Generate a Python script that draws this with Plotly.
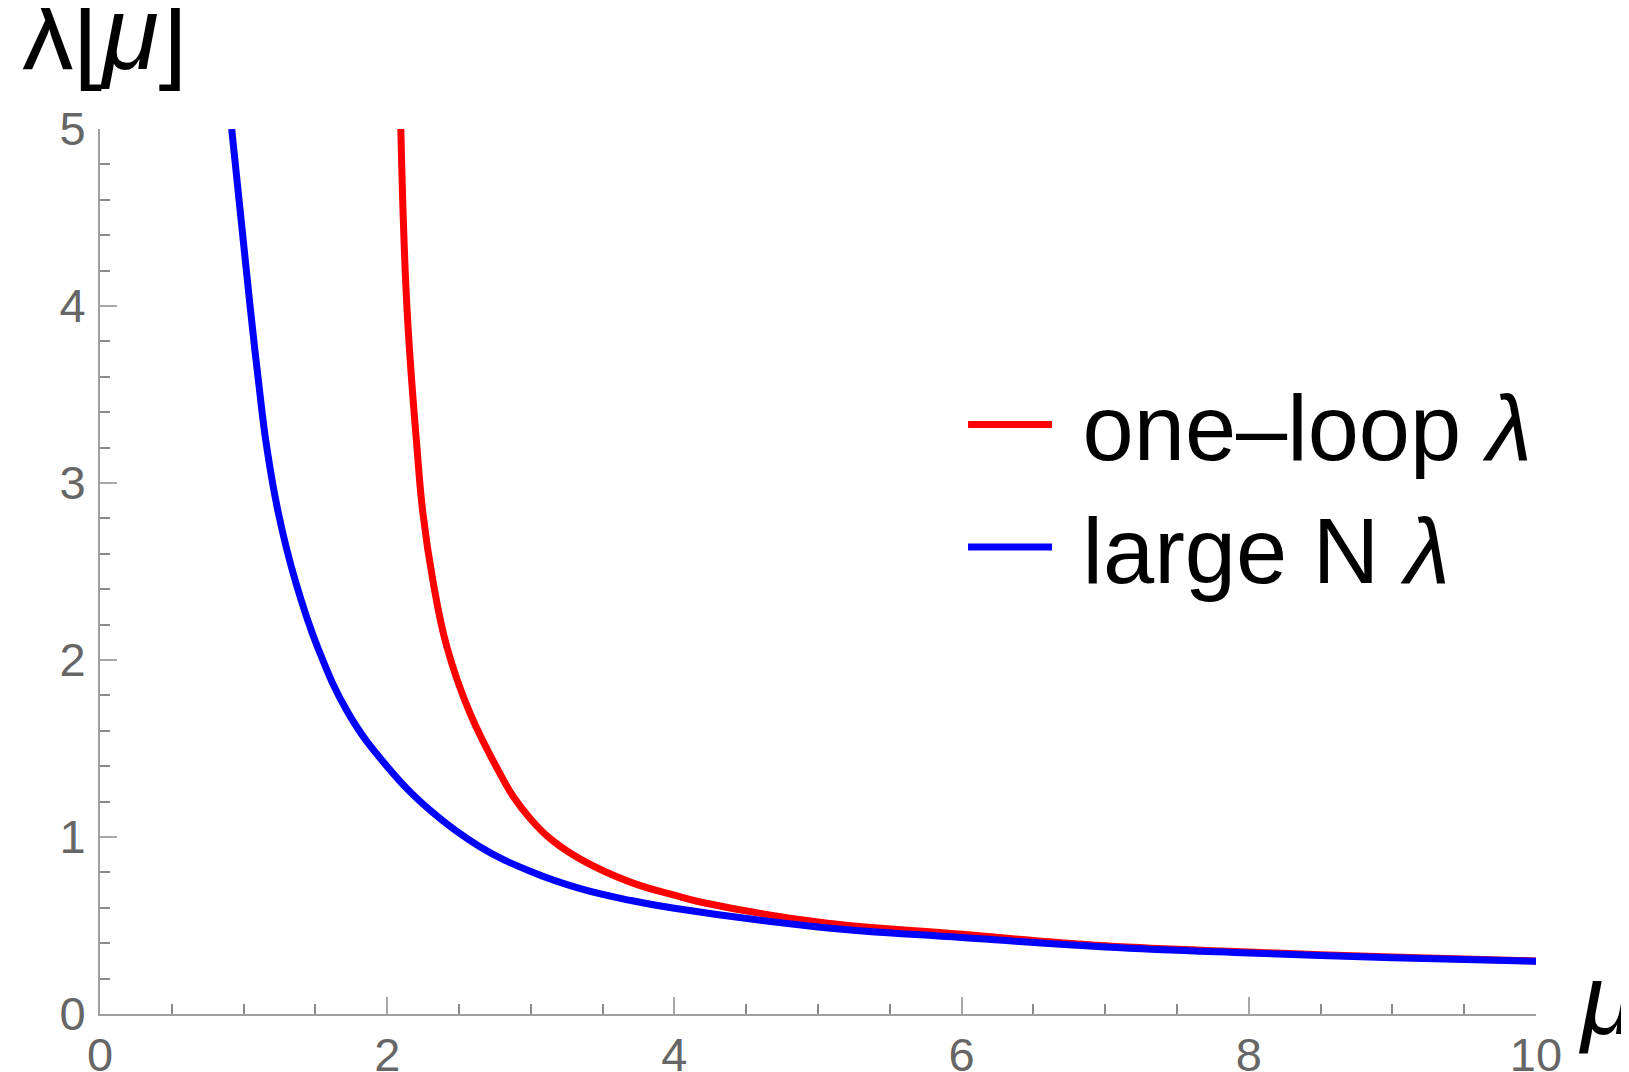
import plotly.graph_objects as go

# Values
mu_one_loop = [2.095, 2.137, 2.207, 2.249, 2.318, 2.416, 2.578, 2.811, 2.88,
               3.0, 3.136, 3.345, 3.693, 4.0, 4.18, 5.0, 6.0, 7.0, 8.0, 9.0, 10.0]
lam_one_loop = [5.0, 4.0, 3.203, 2.827, 2.45, 2.073, 1.697, 1.32, 1.226,
                1.10, 0.99, 0.875, 0.745, 0.671, 0.633, 0.52, 0.45, 0.385, 0.35, 0.322, 0.30]

mu_large_n = [0.917, 1.045, 1.103, 1.161, 1.243, 1.359, 1.515, 1.731, 1.998,
              2.30, 2.648, 3.0, 3.345, 3.693, 4.0, 5.0, 6.0, 7.0, 8.0, 9.0, 10.0]
lam_large_n = [5.0, 4.0, 3.58, 3.203, 2.827, 2.45, 2.073, 1.697, 1.40,
               1.15, 0.944, 0.805, 0.708, 0.642, 0.597, 0.492, 0.432, 0.379, 0.345, 0.318, 0.298]

x_ticks = [0, 2, 4, 6, 8, 10]
y_ticks = [0, 1, 2, 3, 4, 5]

series_names = ["one\u2013loop <i>\u03bb</i>", "large N <i>\u03bb</i>"]
series_colors = ["#ff0000", "#0000ff"]

FONT = "Liberation Sans, Arial, sans-serif"
NBSP = "\u00a0"

fig = go.Figure()
fig.add_trace(go.Scatter(x=mu_one_loop, y=lam_one_loop, mode="lines",
                         line=dict(color=series_colors[0], width=7, shape="spline", smoothing=1.2),
                         name=NBSP + series_names[0], legendgroup="a"))
fig.add_trace(go.Scatter(x=mu_large_n, y=lam_large_n, mode="lines",
                         line=dict(color=series_colors[1], width=7, shape="spline", smoothing=1.2),
                         name=NBSP + series_names[1], legendgroup="b"))

axis_common = dict(
    showgrid=False, zeroline=False, showline=True, linecolor="#a0a0a0", linewidth=2,
    ticks="inside", ticklen=17, tickwidth=2, tickcolor="#a8a8a8",
    tickfont=dict(family=FONT, size=47, color="#666666"),
    mirror=False, automargin=False,
)

fig.update_xaxes(range=[0, 10], tickvals=x_ticks, ticktext=[str(v) for v in x_ticks],
                 ticklabelstandoff=-1,
                 minor=dict(dtick=0.5, ticks="inside", ticklen=10, tickwidth=2, tickcolor="#8a8a8a"),
                 **axis_common)
fig.update_yaxes(range=[0, 5], tickvals=y_ticks, ticktext=[str(v) for v in y_ticks],
                 ticklabelstandoff=3,
                 minor=dict(dtick=0.2, ticks="inside", ticklen=10, tickwidth=2, tickcolor="#8a8a8a"),
                 **axis_common)

fig.update_layout(
    template="none",
    width=1629, height=1072,
    margin=dict(l=92, r=101, t=121, b=66, autoexpand=False),
    paper_bgcolor="white", plot_bgcolor="white",
    font=dict(family=FONT, color="black"),
    showlegend=True,
    legend=dict(x=0.601, y=0.741, xanchor="left", yanchor="top",
                font=dict(family=FONT, size=92, color="black"),
                itemwidth=84, traceorder="grouped", tracegroupgap=0,
                bgcolor="rgba(0,0,0,0)", borderwidth=0),
    annotations=[
        dict(text="\u03bb[<i>\u03bc</i>]", xref="paper", yref="paper",
             x=-0.056, y=1.108, xanchor="left", yanchor="middle", showarrow=False,
             font=dict(family=FONT, size=103, color="black")),
        dict(text="<i>\u03bc</i>", xref="paper", yref="paper",
             x=1.0495, y=0.017, xanchor="center", yanchor="middle", showarrow=False,
             font=dict(family=FONT, size=100, color="black")),
    ],
)

fig.write_html("out.html")
